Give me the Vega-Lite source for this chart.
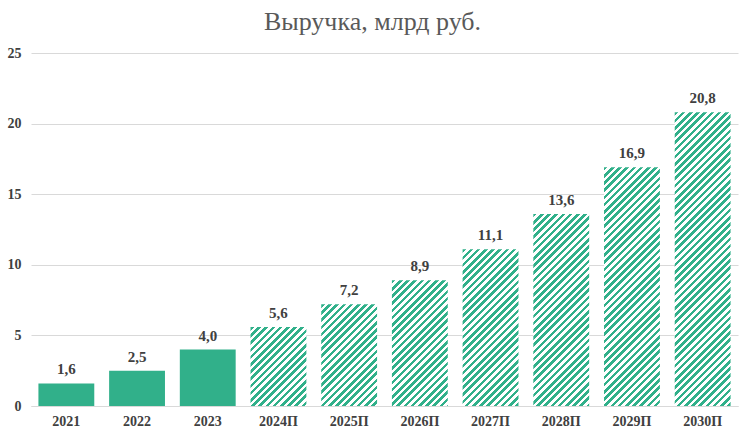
{
  "$schema": "https://vega.github.io/schema/vega-lite/v6.json",
  "width": 707,
  "height": 353,
  "autosize": {"type": "none"},
  "padding": {"left": 31, "top": 53, "right": 8, "bottom": 28},
  "background": "white",
  "title": {"text": "Выручка, млрд руб.", "font": "'Times New Roman', 'Liberation Serif', serif", "fontSize": 26, "fontWeight": "normal", "color": "#595959", "anchor": "middle", "frame": "bounds", "offset": 20, "baseline": "alphabetic", "dy": 30},
  "params": [
    {"name": "c1", "value": "#31B08A"},
    {"name": "c0", "value": "#ffffff"},
    {"name": "stripes", "expr": "[{offset:0/100,color:c1},{offset:1/100,color:c1},{offset:1/100,color:c0},{offset:2/100,color:c0},{offset:2/100,color:c1},{offset:3/100,color:c1},{offset:3/100,color:c0},{offset:4/100,color:c0},{offset:4/100,color:c1},{offset:5/100,color:c1},{offset:5/100,color:c0},{offset:6/100,color:c0},{offset:6/100,color:c1},{offset:7/100,color:c1},{offset:7/100,color:c0},{offset:8/100,color:c0},{offset:8/100,color:c1},{offset:9/100,color:c1},{offset:9/100,color:c0},{offset:10/100,color:c0},{offset:10/100,color:c1},{offset:11/100,color:c1},{offset:11/100,color:c0},{offset:12/100,color:c0},{offset:12/100,color:c1},{offset:13/100,color:c1},{offset:13/100,color:c0},{offset:14/100,color:c0},{offset:14/100,color:c1},{offset:15/100,color:c1},{offset:15/100,color:c0},{offset:16/100,color:c0},{offset:16/100,color:c1},{offset:17/100,color:c1},{offset:17/100,color:c0},{offset:18/100,color:c0},{offset:18/100,color:c1},{offset:19/100,color:c1},{offset:19/100,color:c0},{offset:20/100,color:c0},{offset:20/100,color:c1},{offset:21/100,color:c1},{offset:21/100,color:c0},{offset:22/100,color:c0},{offset:22/100,color:c1},{offset:23/100,color:c1},{offset:23/100,color:c0},{offset:24/100,color:c0},{offset:24/100,color:c1},{offset:25/100,color:c1},{offset:25/100,color:c0},{offset:26/100,color:c0},{offset:26/100,color:c1},{offset:27/100,color:c1},{offset:27/100,color:c0},{offset:28/100,color:c0},{offset:28/100,color:c1},{offset:29/100,color:c1},{offset:29/100,color:c0},{offset:30/100,color:c0},{offset:30/100,color:c1},{offset:31/100,color:c1},{offset:31/100,color:c0},{offset:32/100,color:c0},{offset:32/100,color:c1},{offset:33/100,color:c1},{offset:33/100,color:c0},{offset:34/100,color:c0},{offset:34/100,color:c1},{offset:35/100,color:c1},{offset:35/100,color:c0},{offset:36/100,color:c0},{offset:36/100,color:c1},{offset:37/100,color:c1},{offset:37/100,color:c0},{offset:38/100,color:c0},{offset:38/100,color:c1},{offset:39/100,color:c1},{offset:39/100,color:c0},{offset:40/100,color:c0},{offset:40/100,color:c1},{offset:41/100,color:c1},{offset:41/100,color:c0},{offset:42/100,color:c0},{offset:42/100,color:c1},{offset:43/100,color:c1},{offset:43/100,color:c0},{offset:44/100,color:c0},{offset:44/100,color:c1},{offset:45/100,color:c1},{offset:45/100,color:c0},{offset:46/100,color:c0},{offset:46/100,color:c1},{offset:47/100,color:c1},{offset:47/100,color:c0},{offset:48/100,color:c0},{offset:48/100,color:c1},{offset:49/100,color:c1},{offset:49/100,color:c0},{offset:50/100,color:c0},{offset:50/100,color:c1},{offset:51/100,color:c1},{offset:51/100,color:c0},{offset:52/100,color:c0},{offset:52/100,color:c1},{offset:53/100,color:c1},{offset:53/100,color:c0},{offset:54/100,color:c0},{offset:54/100,color:c1},{offset:55/100,color:c1},{offset:55/100,color:c0},{offset:56/100,color:c0},{offset:56/100,color:c1},{offset:57/100,color:c1},{offset:57/100,color:c0},{offset:58/100,color:c0},{offset:58/100,color:c1},{offset:59/100,color:c1},{offset:59/100,color:c0},{offset:60/100,color:c0},{offset:60/100,color:c1},{offset:61/100,color:c1},{offset:61/100,color:c0},{offset:62/100,color:c0},{offset:62/100,color:c1},{offset:63/100,color:c1},{offset:63/100,color:c0},{offset:64/100,color:c0},{offset:64/100,color:c1},{offset:65/100,color:c1},{offset:65/100,color:c0},{offset:66/100,color:c0},{offset:66/100,color:c1},{offset:67/100,color:c1},{offset:67/100,color:c0},{offset:68/100,color:c0},{offset:68/100,color:c1},{offset:69/100,color:c1},{offset:69/100,color:c0},{offset:70/100,color:c0},{offset:70/100,color:c1},{offset:71/100,color:c1},{offset:71/100,color:c0},{offset:72/100,color:c0},{offset:72/100,color:c1},{offset:73/100,color:c1},{offset:73/100,color:c0},{offset:74/100,color:c0},{offset:74/100,color:c1},{offset:75/100,color:c1},{offset:75/100,color:c0},{offset:76/100,color:c0},{offset:76/100,color:c1},{offset:77/100,color:c1},{offset:77/100,color:c0},{offset:78/100,color:c0},{offset:78/100,color:c1},{offset:79/100,color:c1},{offset:79/100,color:c0},{offset:80/100,color:c0},{offset:80/100,color:c1},{offset:81/100,color:c1},{offset:81/100,color:c0},{offset:82/100,color:c0},{offset:82/100,color:c1},{offset:83/100,color:c1},{offset:83/100,color:c0},{offset:84/100,color:c0},{offset:84/100,color:c1},{offset:85/100,color:c1},{offset:85/100,color:c0},{offset:86/100,color:c0},{offset:86/100,color:c1},{offset:87/100,color:c1},{offset:87/100,color:c0},{offset:88/100,color:c0},{offset:88/100,color:c1},{offset:89/100,color:c1},{offset:89/100,color:c0},{offset:90/100,color:c0},{offset:90/100,color:c1},{offset:91/100,color:c1},{offset:91/100,color:c0},{offset:92/100,color:c0},{offset:92/100,color:c1},{offset:93/100,color:c1},{offset:93/100,color:c0},{offset:94/100,color:c0},{offset:94/100,color:c1},{offset:95/100,color:c1},{offset:95/100,color:c0},{offset:96/100,color:c0},{offset:96/100,color:c1},{offset:97/100,color:c1},{offset:97/100,color:c0},{offset:98/100,color:c0},{offset:98/100,color:c1},{offset:99/100,color:c1},{offset:99/100,color:c0},{offset:100/100,color:c0}]"}
  ],
  "data": {
    "values": [
      {"year": "2021", "v": 1.6, "forecast": false},
      {"year": "2022", "v": 2.5, "forecast": false},
      {"year": "2023", "v": 4.0, "forecast": false},
      {"year": "2024П", "v": 5.6, "forecast": true},
      {"year": "2025П", "v": 7.2, "forecast": true},
      {"year": "2026П", "v": 8.9, "forecast": true},
      {"year": "2027П", "v": 11.1, "forecast": true},
      {"year": "2028П", "v": 13.6, "forecast": true},
      {"year": "2029П", "v": 16.9, "forecast": true},
      {"year": "2030П", "v": 20.8, "forecast": true}
    ]
  },
  "encoding": {
    "x": {
      "field": "year", "type": "nominal", "sort": null,
      "scale": {"paddingInner": 0.21, "paddingOuter": 0.105},
      "axis": {"title": null, "labelAngle": 0, "labelFont": "'Times New Roman', 'Liberation Serif', serif", "labelFontSize": 14, "labelFontWeight": "bold", "labelColor": "#404040", "labelPadding": 8, "ticks": false, "domainColor": "#d9d9d9", "domainWidth": 1, "grid": false}
    },
    "y": {
      "field": "v", "type": "quantitative",
      "scale": {"domain": [0, 25], "nice": false},
      "axis": {"title": null, "values": [0, 5, 10, 15, 20, 25], "labelFont": "'Times New Roman', 'Liberation Serif', serif", "labelFontSize": 14, "labelFontWeight": "bold", "labelColor": "#404040", "labelPadding": 10, "ticks": false, "domain": false, "grid": true, "gridColor": "#d9d9d9", "gridWidth": 1}
    }
  },
  "layer": [
    {
      "mark": {
        "type": "bar",
        "fill": {"expr": "datum.forecast ? {gradient:'linear', x1:0, y1:0, x2: bandwidth('x')*360/(bandwidth('x')*bandwidth('x')+pow(scale('y',0)-scale('y',datum.v),2)), y2: (scale('y',0)-scale('y',datum.v))*360/(bandwidth('x')*bandwidth('x')+pow(scale('y',0)-scale('y',datum.v),2)), stops: stripes} : c1"}
      }
    },
    {
      "mark": {"type": "text", "baseline": "alphabetic", "dy": -9, "font": "'Times New Roman', 'Liberation Serif', serif", "fontSize": 15, "fontWeight": "bold", "fill": "#404040"},
      "encoding": {"text": {"field": "v", "type": "quantitative", "format": ".1f"}}
    }
  ],
  "config": {
    "view": {"stroke": null},
    "locale": {"number": {"decimal": ",", "thousands": " ", "grouping": [3], "currency": ["", ""]}}
  }
}
